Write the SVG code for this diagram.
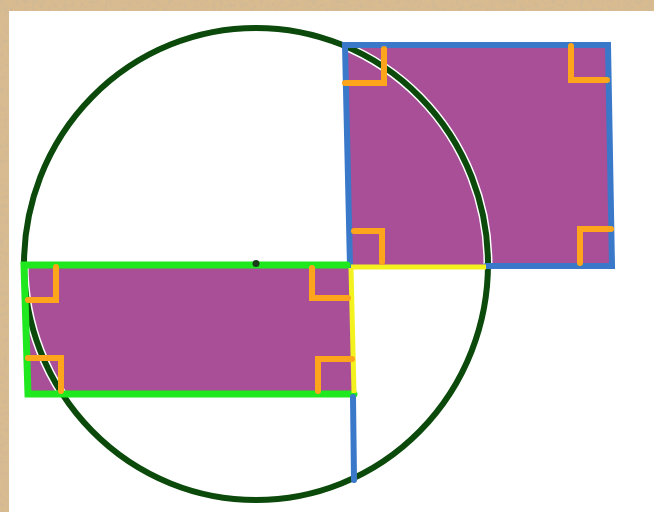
<svg xmlns="http://www.w3.org/2000/svg" width="654" height="512" viewBox="0 0 654 512">
  <defs>
    <filter id="paper" x="0" y="0" width="100%" height="100%">
      <feTurbulence type="fractalNoise" baseFrequency="0.25" numOctaves="3" seed="4" result="n"/>
      <feColorMatrix in="n" type="matrix" values="0 0 0 0 0.62  0 0 0 0 0.48  0 0 0 0 0.30  0 0 0 -2.2 1.3" result="c"/>
      <feComposite in="c" in2="SourceGraphic" operator="in"/>
    </filter>
    <style>
      .fill { fill: #a94f98; stroke: none; }
      .ring { fill: none; stroke: #0b4a0b; stroke-width: 6; }
      .halo { fill: none; stroke: #ffffff; stroke-width: 9; }
      .blue { stroke: #3a78c9; stroke-width: 6; stroke-linecap: round; fill: none; }
      .green { stroke: #1fe81f; stroke-width: 7; stroke-linecap: round; fill: none; }
      .yellow { stroke: #f4f21e; stroke-width: 5; stroke-linecap: butt; fill: none; }
      .mark { stroke: #ffa51c; stroke-width: 6; stroke-linecap: round; stroke-linejoin: miter; fill: none; }
    </style>
  </defs>

  <!-- paper background -->
  <rect x="0" y="0" width="654" height="512" fill="#d9bb90"/>
  <rect x="0" y="0" width="654" height="512" fill="#d9bb90" filter="url(#paper)"/>
  <rect x="9" y="11" width="645" height="501" fill="#ffffff"/>

  <!-- purple regions -->
  <g id="square-fill">
    <polygon class="fill" points="345,45 608,45 612,266 350,266"/>
  </g>
  <g id="rect-fill">
    <polygon class="fill" points="25,265 351,265 354,394 28,394"/>
  </g>

  <!-- circle -->
  <g id="circle">
    <ellipse class="halo" cx="256" cy="264" rx="232" ry="236"/>
    <ellipse class="ring" cx="256" cy="264" rx="232" ry="236"/>
  </g>

  <!-- square border -->
  <g id="square">
    <polyline class="blue" points="350,266 345,45 608,45 612,266 486,266"/>
    <line class="yellow" x1="351" y1="267" x2="486" y2="267"/>
    <polyline class="mark" points="345,83 384,83 384,49"/>
    <polyline class="mark" points="571,46 571,80 607,80"/>
    <polyline class="mark" points="354,231 382,231 382,262"/>
    <polyline class="mark" points="611,229 580,229 580,263"/>
  </g>

  <!-- rectangle border -->
  <g id="rectangle">
    <polyline class="green" points="347,265 24,265 28,394 354,394"/>
    <line class="yellow" x1="351" y1="268" x2="354" y2="393"/>
    <polyline class="mark" points="28,300 56,300 56,267"/>
    <polyline class="mark" points="312,268 312,298 348,298"/>
    <polyline class="mark" points="28,358 61,358 61,391"/>
    <polyline class="mark" points="352,359 318,359 318,391"/>
  </g>

  <!-- centre point -->
  <g id="centre">
    <circle cx="256" cy="263.5" r="3.5" fill="#1a3a1a"/>
  </g>

  <!-- connector -->
  <g id="connectors">
    <line class="blue" x1="353" y1="397" x2="354" y2="480"/>
  </g>
</svg>
